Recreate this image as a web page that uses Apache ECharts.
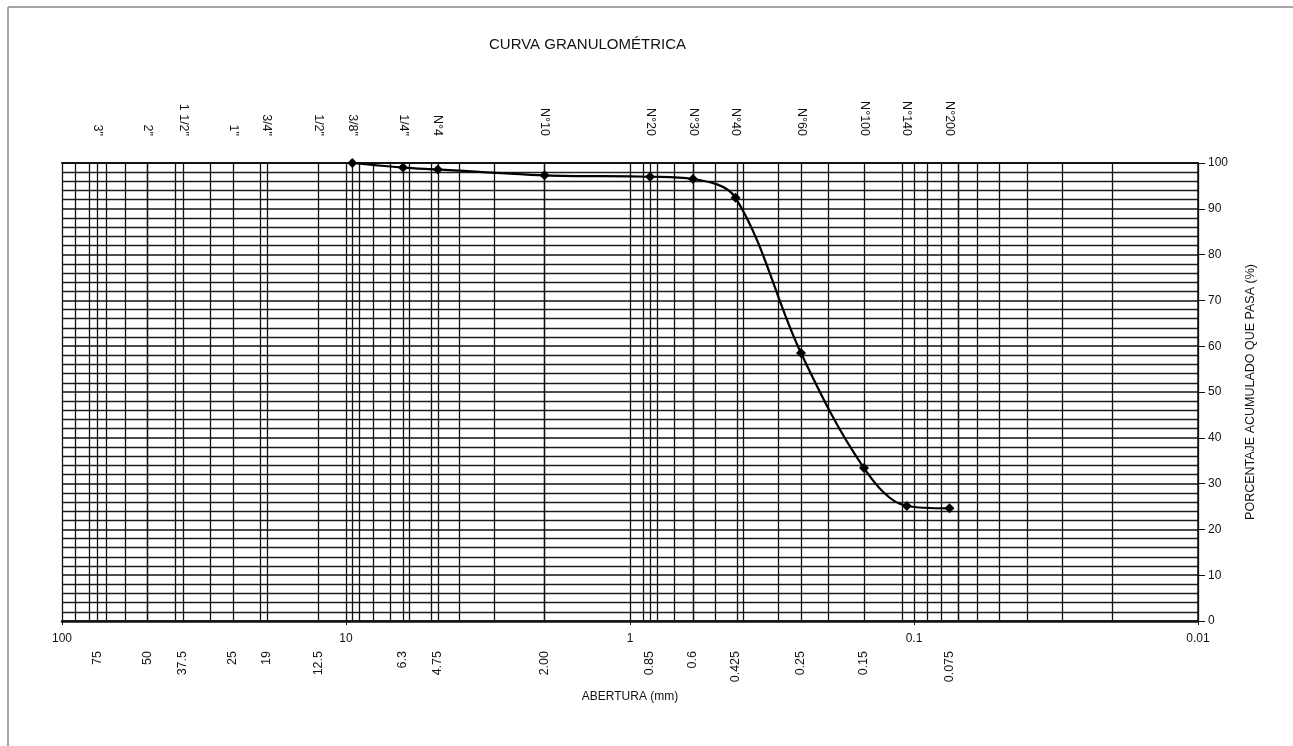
<!DOCTYPE html>
<html>
<head>
<meta charset="utf-8">
<script src="https://cdn.jsdelivr.net/npm/echarts@6/dist/echarts.min.js"></script>
<style>
html,body{margin:0;padding:0;background:#fff;}
#chart{width:1293px;height:746px;}
</style>
</head>
<body>
<div id="chart"></div>
<script>
// Sieve openings (mm) and cumulative % passing
const sieveSizes = [9.5, 6.3, 4.75, 2.00, 0.85, 0.6, 0.425, 0.25, 0.15, 0.106, 0.075];
const percentPassing = [100, 99.0, 98.6, 97.3, 97.0, 96.5, 92.4, 58.5, 33.4, 25.1, 24.6];

// Top labels (sieve names) and their openings
const topSieveValues = [75, 50, 37.5, 25, 19, 12.5, 9.5, 6.3, 4.75, 2.00, 0.85, 0.6, 0.425, 0.25, 0.15, 0.106, 0.075];
const topSieveNames = ['3"', '2"', '1 1/2"', '1"', '3/4"', '1/2"', '3/8"', '1/4"', 'N°4', 'N°10', 'N°20', 'N°30', 'N°40', 'N°60', 'N°100', 'N°140', 'N°200'];

// Bottom rotated opening labels
const bottomSieveValues = [75, 50, 37.5, 25, 19, 12.5, 6.3, 4.75, 2.00, 0.85, 0.6, 0.425, 0.25, 0.15, 0.075];
const bottomSieveLabels = ['75', '50', '37.5', '25', '19', '12.5', '6.3', '4.75', '2.00', '0.85', '0.6', '0.425', '0.25', '0.15', '0.075'];

// Decade labels on the log axis
const decadeValues = [100, 10, 1, 0.1, 0.01];
const decadeLabels = ['100', '10', '1', '0.1', '0.01'];

// Vertical grid positions: log grid multiples plus sieve openings
const decades = [0.01, 0.1, 1, 10];
const multiples = [1, 2, 3, 4, 5, 6, 7, 8, 9];
const gridX = [100];
decades.forEach(d => multiples.forEach(m => gridX.push(+(d * m).toPrecision(3))));
topSieveValues.forEach(v => gridX.push(v));

function lookup(vals, labels, v) {
  let best = 0, bd = Infinity;
  vals.forEach((x, i) => { const d = Math.abs(Math.log(x) - Math.log(v)); if (d < bd) { bd = d; best = i; } });
  return labels[best];
}

const chart = echarts.init(document.getElementById('chart'), null, {renderer: 'canvas'});
const font = 'Liberation Sans, Arial, sans-serif';
const lineColor = '#111';

const option = {
  backgroundColor: '#ffffff',
  animation: false,
  title: {
    text: 'CURVA GRANULOMÉTRICA',
    left: 484, top: 32,
    textStyle: {fontFamily: font, fontSize: 15, fontWeight: 'normal', color: '#111'}
  },
  graphic: [
    {type: 'line', shape: {x1: 8, y1: 7, x2: 1293, y2: 7}, style: {stroke: '#888', lineWidth: 1.5}},
    {type: 'line', shape: {x1: 8, y1: 7, x2: 8, y2: 746}, style: {stroke: '#888', lineWidth: 1.5}}
  ],
  grid: {left: 62, right: 95, top: 163, bottom: 125, containLabel: false},
  xAxis: [
    {
      type: 'log', logBase: 10, min: 0.01, max: 100, inverse: true, position: 'bottom',
      axisLine: {show: true, lineStyle: {color: lineColor, width: 2.5}},
      axisTick: {show: true, length: 4, lineStyle: {color: lineColor}},
      splitLine: {show: false},
      axisLabel: {
        margin: 12, fontFamily: font, fontSize: 12, color: '#111',
        formatter: v => lookup(decadeValues, decadeLabels, v)
      },
      name: 'ABERTURA (mm)', nameLocation: 'middle', nameGap: 70,
      nameTextStyle: {fontFamily: font, fontSize: 12, color: '#111'}
    },
    {
      type: 'log', logBase: 10, min: 0.01, max: 100, inverse: true, position: 'bottom',
      axisLine: {show: false}, axisTick: {show: false}, splitLine: {show: false},
      axisLabel: {
        customValues: bottomSieveValues, rotate: 90, margin: 30,
        fontFamily: font, fontSize: 12.5, color: '#111',
        formatter: v => lookup(bottomSieveValues, bottomSieveLabels, v)
      }
    },
    {
      type: 'log', logBase: 10, min: 0.01, max: 100, inverse: true, position: 'top',
      axisLine: {show: true, lineStyle: {color: lineColor, width: 2}},
      axisTick: {show: false}, splitLine: {show: false},
      axisLabel: {
        customValues: topSieveValues, rotate: 90, margin: 27,
        fontFamily: font, fontSize: 12.5, color: '#111',
        formatter: v => lookup(topSieveValues, topSieveNames, v)
      }
    }
  ],
  yAxis: {
    type: 'value', min: 0, max: 100, interval: 10, position: 'right',
    axisLine: {show: true, lineStyle: {color: lineColor, width: 1.5}},
    axisTick: {show: true, length: 7, lineStyle: {color: lineColor}},
    minorTick: {show: false, splitNumber: 5},
    splitLine: {show: true, lineStyle: {color: lineColor, width: 1.6}},
    minorSplitLine: {show: true, lineStyle: {color: '#1c1c1c', width: 1.3}},
    axisLabel: {margin: 10, fontFamily: font, fontSize: 12, color: '#111'},
    name: 'PORCENTAJE ACUMULADO QUE PASA (%)', nameLocation: 'middle', nameGap: 46, nameRotate: 90,
    nameTextStyle: {fontFamily: font, fontSize: 12.5, color: '#111'}
  },
  series: [
    {
      type: 'line', xAxisIndex: 0, data: [], z: 1, silent: true,
      markLine: {
        silent: true, symbol: ['none', 'none'], label: {show: false}, animation: false,
        lineStyle: {color: lineColor, width: 1.3, type: 'solid'},
        emphasis: {disabled: true},
        data: gridX.map(v => ({xAxis: v}))
      }
    },
    {
      type: 'line', xAxisIndex: 0, z: 5,
      data: sieveSizes.map((s, i) => [s, percentPassing[i]]),
      smooth: 0.35,
      symbol: 'diamond', symbolSize: 10,
      lineStyle: {color: '#000', width: 2.2},
      itemStyle: {color: '#000'}
    }
  ]
};
chart.setOption(option);
</script>
</body>
</html>
